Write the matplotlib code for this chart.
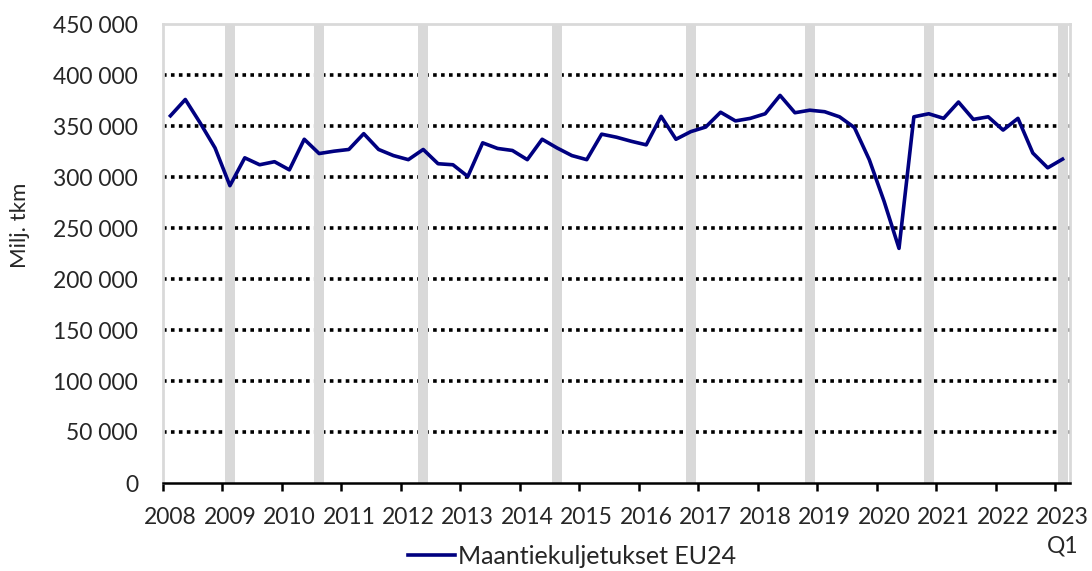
import numpy as np
import matplotlib.pyplot as plt
from matplotlib.ticker import FuncFormatter, FixedLocator

plt.rcParams['font.family'] = ['Lato', 'DejaVu Sans']

# quarterly road freight, 2008 Q1 .. 2023 Q1 (million tkm)
years = list(range(2008, 2024))
road_tkm = [
    360000, 376000, 353000, 328500,   # 2008
    291500, 318800, 312000, 315000,   # 2009
    307000, 337000, 323000, 325300,   # 2010
    327000, 342500, 327000, 321000,   # 2011
    317000, 327000, 313000, 312000,   # 2012
    300500, 333500, 328000, 326000,   # 2013
    317000, 337000, 328500, 321000,   # 2014
    317000, 342000, 339000, 335000,   # 2015
    331500, 359500, 337000, 344500,   # 2016
    349000, 363500, 355000, 357500,   # 2017
    362000, 380000, 363000, 365500,   # 2018
    364000, 359000, 348500, 317000,   # 2019
    276000, 230000, 359000, 362000,   # 2020
    357500, 373500, 356500, 359000,   # 2021
    346000, 357500, 323500, 309000,   # 2022
    317500,                           # 2023 Q1
]
# grey marker columns (quarter index, full height)
band_quarters = [4, 10, 17, 26, 35, 43, 51, 60]
band_height = 450000

series_label = "Maantiekuljetukset EU24"
y_label = "Milj. tkm"

x = np.arange(len(road_tkm))

fig = plt.figure(figsize=(10.92, 5.71), dpi=100)
ax = fig.add_axes([163 / 1092, 1 - 483 / 571, 907 / 1092, 459 / 571])

ax.bar(band_quarters, [band_height] * len(band_quarters), width=0.67,
       color="#d9d9d9", zorder=1)
line, = ax.plot(x, road_tkm, color="#000080", lw=2.6, zorder=3,
                solid_joinstyle="round", label=series_label)

ax.set_xlim(-0.5, len(road_tkm) - 0.5)
ax.set_ylim(0, 450000)
ax.set_yticks(np.arange(0, 450001, 50000))
ax.yaxis.set_major_formatter(FuncFormatter(lambda v, p: f"{int(v):,}".replace(",", " ")))

# year labels on each Q1, tick marks between categories
label_pos = [4 * (y - years[0]) for y in years]
labels = [str(y) for y in years]
labels[-1] = f"{years[-1]}\nQ1"
ax.set_xticks(label_pos)
ax.set_xticklabels(labels)
ax.get_xticklabels()[-1].set_linespacing(1.45)
ax.xaxis.set_minor_locator(FixedLocator([p - 0.5 for p in label_pos]))

ax.tick_params(axis="x", which="major", length=0, pad=17, labelsize=16.5, colors="#262626")
ax.tick_params(axis="x", which="minor", length=6, width=1.8, color="black")
ax.tick_params(axis="y", length=0, pad=18, labelsize=16.5, colors="#262626")

ax.grid(axis="y", color="black", lw=2.6, linestyle=(0, (1.0, 1.2)), zorder=0.5)
ax.set_axisbelow(True)
gl = ax.get_ygridlines()
gl[0].set_visible(False)
gl[-1].set_visible(False)

for side in ("left", "top", "right"):
    ax.spines[side].set_color("#d9d9d9")
    ax.spines[side].set_linewidth(2)
ax.spines["bottom"].set_color("black")
ax.spines["bottom"].set_linewidth(1.8)
ax.spines["bottom"].set_zorder(4)

fig.text(20 / 1092, 1 - 225 / 571, y_label, rotation=90, ha="center", va="center",
         fontsize=16, color="#262626")

fig.legend(handles=[line], loc="center", bbox_to_anchor=(572 / 1092, 1 - 556 / 571),
           frameon=False, fontsize=18, handlelength=1.9, handletextpad=0.1,
           borderaxespad=0, borderpad=0, labelcolor="#262626")

fig.savefig("out.png", dpi=100)
